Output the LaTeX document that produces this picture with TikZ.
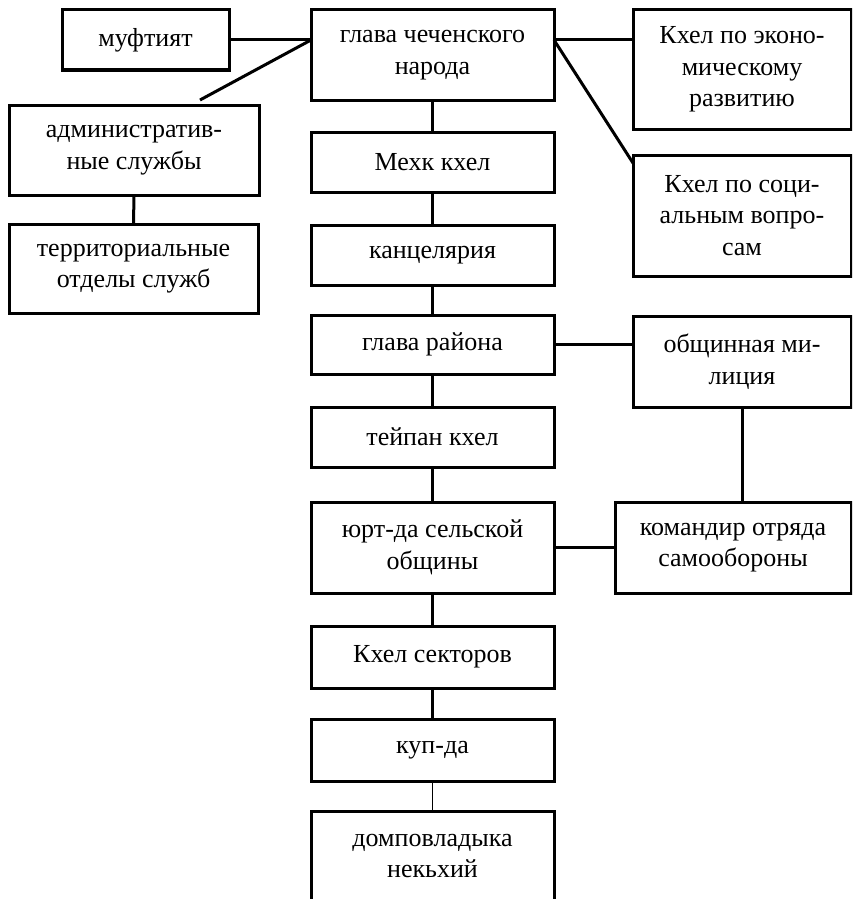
\documentclass[tikz,border=0pt]{standalone}
\usepackage{fontspec}
\IfFontExistsTF{LiberationSerif-Regular.ttf}
  {\setmainfont{LiberationSerif-Regular.ttf}\newcommand\boxfs{\fontsize{26}{31.5}\selectfont}}
  {\setmainfont{DejaVu Serif}\newcommand\boxfs{\fontsize{22}{31.5}\selectfont}}
\usetikzlibrary{calc}
\begin{document}
\begin{tikzpicture}[x=1pt,y=-1pt,
  box/.style={draw=black,line width=3pt,rectangle,inner sep=0pt,outer sep=0pt,align=center,
    font=\boxfs},
  link/.style={draw=black,line width=3pt},
  thinlink/.style={draw=black,line width=1.5pt}]
\clip (0,0) rectangle (852,899);
\fill[white] (0,0) rectangle (852,899);
% central column
\node[box,minimum width=243,minimum height=90] (glava) at (432.5,55) {глава чеченского\\народа};
\node[box,minimum width=243,minimum height=60] (mekh) at (432.5,162) {Мехк кхел};
\node[box,minimum width=243,minimum height=60] (kanc) at (432.5,255) {канцелярия};
\node[box,minimum width=243,minimum height=59] (glavar) at (432.5,344.5) {глава района};
\node[box,minimum width=243,minimum height=60] (teip) at (432.5,437) {тейпан кхел};
\node[box,minimum width=243,minimum height=91] (yurt) at (432.5,547.5) {юрт-да сельской\\общины};
\node[box,minimum width=243,minimum height=62] (sekt) at (432.5,657) {Кхел секторов};
\node[box,minimum width=243,minimum height=62] (kup) at (432.5,750) {куп-да};
\node[box,minimum width=243,minimum height=90] (dom) at (432.5,856) {домповладыка\\некьхий};
% left
\node[box,minimum width=167,minimum height=60] (mufti) at (145.5,40) {муфтият};
\node[box,minimum width=250,minimum height=90] (admin) at (134,150) {административ-\\ные службы};
\node[box,minimum width=249,minimum height=89] (terr) at (133.5,268.5) {территориальные\\отделы служб};
% right
\node[box,minimum width=218,minimum height=119] (econ) at (742,69.5) {Кхел по эконо-\\мическому\\развитию};
\node[box,minimum width=218,minimum height=121] (soc) at (742,215.5) {Кхел по соци-\\альным вопро-\\сам};
\node[box,minimum width=218,minimum height=91] (obsh) at (742,361.5) {общинная ми-\\лиция};
\node[box,minimum width=236,minimum height=91] (komand) at (733,547.5) {командир отряда\\самообороны};
% helper coordinates
\coordinate (gL) at (glava.west |- mufti.east);
\coordinate (gR) at (glava.east |- mufti.east);
\coordinate (admend) at (200,100);
% connectors
\draw[link] (mufti.east) -- (gL);
\draw[link] (gL) -- (admend);
\draw[link] (gR) -- (gR -| econ.west);
\draw[link] (gR) -- ($(soc.north west)+(0,8)$);
\draw[link] (admin.south) -- (terr.north);
\draw[link] (glava) -- (mekh);
\draw[link] (mekh) -- (kanc);
\draw[link] (kanc) -- (glavar);
\draw[link] (glavar) -- (teip);
\draw[link] (teip) -- (yurt);
\draw[link] (yurt) -- (sekt);
\draw[link] (sekt) -- (kup);
\draw[thinlink] (kup) -- (dom);
\draw[link] (glavar.east) -- (glavar.east -| obsh.west);
\draw[link] (obsh.south) -- (obsh.south |- komand.north);
\draw[link] (yurt.east) -- (komand.west);
\end{tikzpicture}
\end{document}
